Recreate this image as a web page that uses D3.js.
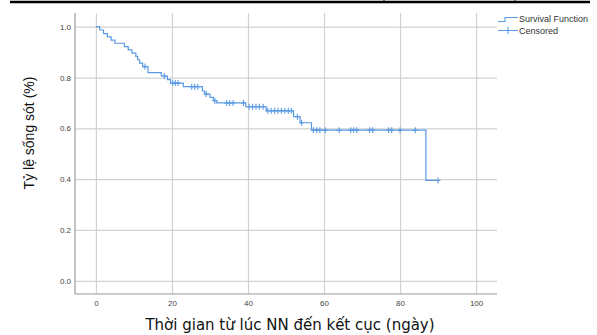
<!DOCTYPE html>
<html>
<head>
<meta charset="utf-8">
<script src="https://cdn.jsdelivr.net/npm/d3@7"></script>
<style>
  body { margin: 0; background: #fff; }
  svg { display: block; }
</style>
</head>
<body>
<svg width="597" height="335"></svg>
<script>
// Kaplan-Meier steps: day of each event and survival right after it
const eventDays = [1, 2, 3, 4, 5, 7.5, 8.5, 9.5, 10.5, 11, 11.5, 12.3, 13.7, 17.2, 18.8, 19.6,
  23, 28, 28.6, 30, 30.9, 31.8, 39.4, 44.8, 52, 53.7, 56.7, 86.8];
const survival = [0.987, 0.973, 0.96, 0.947, 0.935, 0.922, 0.909, 0.896, 0.883, 0.87, 0.857, 0.843,
  0.819, 0.806, 0.792, 0.778, 0.764, 0.747, 0.735, 0.722, 0.709, 0.70, 0.685, 0.669, 0.646, 0.622,
  0.593, 0.395];
// censored cases (days)
const censoredDays = [12.9, 18, 20.2, 20.9, 21.6, 25.2, 26, 26.8, 29, 31.3, 34.4, 35.2, 36.1, 38.8,
  40.3, 41.2, 42.1, 43, 44, 45.2, 46.1, 47, 47.9, 48.8, 49.7, 50.6, 51.4, 53, 54.1,
  57.2, 58.1, 58.9, 60.3, 64, 67, 67.8, 68.6, 72, 72.8, 77, 77.8, 80, 84, 90];
const xTicks = [0, 20, 40, 60, 80, 100];
const yTicks = [0, 0.2, 0.4, 0.6, 0.8, 1.0];

const svg = d3.select("svg");
const plotL = 75, plotR = 497, plotT = 13, plotB = 294;
const x = d3.scaleLinear().domain([-5.5, 105.5]).range([plotL, plotR]);
const y = d3.scaleLinear().domain([-0.052, 1.054]).range([plotB, plotT]);
const blue = "#5b9be3";

// table border remnant at top
const border = svg.append("g").attr("stroke", "#000");
border.append("line").attr("x1", 10).attr("x2", 590).attr("y1", 2).attr("y2", 2).attr("stroke-width", 2.5);
[384, 515].forEach(bx => border.append("line").attr("x1", bx).attr("x2", bx).attr("y1", 0).attr("y2", 3).attr("stroke-width", 1));

// grid
const gy = svg.append("g")
  .attr("transform", `translate(${plotL},0)`)
  .call(d3.axisLeft(y).tickValues(yTicks).tickSize(-(plotR - plotL)).tickPadding(4).tickFormat(d3.format(".1f")));
const gx = svg.append("g")
  .attr("transform", `translate(0,${plotB})`)
  .call(d3.axisBottom(x).tickValues(xTicks).tickSize(-(plotB - plotT)).tickPadding(6));
[gx, gy].forEach(g => {
  g.select(".domain").remove();
  g.selectAll(".tick line").attr("stroke", "#d2d2d2").attr("stroke-width", 1.2);
  g.selectAll(".tick text").attr("fill", "#444").style("font", "8px 'Liberation Sans', Arial, sans-serif");
});

// axis lines
svg.append("line").attr("x1", plotL).attr("x2", plotL).attr("y1", plotT).attr("y2", plotB).attr("stroke", "#9a9a9a").attr("stroke-width", 1.2);
svg.append("line").attr("x1", plotL).attr("x2", plotR).attr("y1", plotB).attr("y2", plotB).attr("stroke", "#9a9a9a").attr("stroke-width", 1.2);

// survival step curve
const pts = [[0, 1]].concat(eventDays.map((d, i) => [d, survival[i]]));
pts.push([d3.max(censoredDays), survival[survival.length - 1]]);
const line = d3.line().x(d => x(d[0])).y(d => y(d[1])).curve(d3.curveStepAfter);
svg.append("path").datum(pts).attr("d", line).attr("fill", "none").attr("stroke", blue).attr("stroke-width", 1.2);

// censored marks
const survAt = t => {
  const i = d3.bisectRight(eventDays, t);
  return i === 0 ? 1 : survival[i - 1];
};
svg.append("g").selectAll("path").data(censoredDays).join("path")
  .attr("transform", d => `translate(${x(d)},${y(survAt(d))})`)
  .attr("d", "M-2.5,0H2.5M0,-3V3")
  .attr("stroke", blue).attr("stroke-width", 1.1).attr("fill", "none");

// axis titles
svg.append("text").attr("x", 290).attr("y", 330).attr("text-anchor", "middle")
  .style("font", "15px 'DejaVu Sans', Verdana, sans-serif").attr("fill", "#111")
  .text("Thời gian từ lúc NN đến kết cục (ngày)");
svg.append("text").attr("transform", "translate(34,133) rotate(-90)").attr("text-anchor", "middle")
  .style("font", "14px 'Liberation Sans', Arial, sans-serif").attr("fill", "#111")
  .text("Tỷ lệ sống sót (%)");

// legend
const lg = svg.append("g").attr("fill", "none").attr("stroke", blue).attr("stroke-width", 1.1);
lg.append("path").attr("d", "M498,21.5H505V17.5H518");
lg.append("path").attr("d", "M498,30.5H518M508,27V34");
const lt = svg.append("g").attr("fill", "#333").style("font", "9px 'Liberation Sans', Arial, sans-serif");
lt.append("text").attr("x", 519).attr("y", 22).text("Survival Function");
lt.append("text").attr("x", 519).attr("y", 33.5).text("Censored");
</script>
</body>
</html>
